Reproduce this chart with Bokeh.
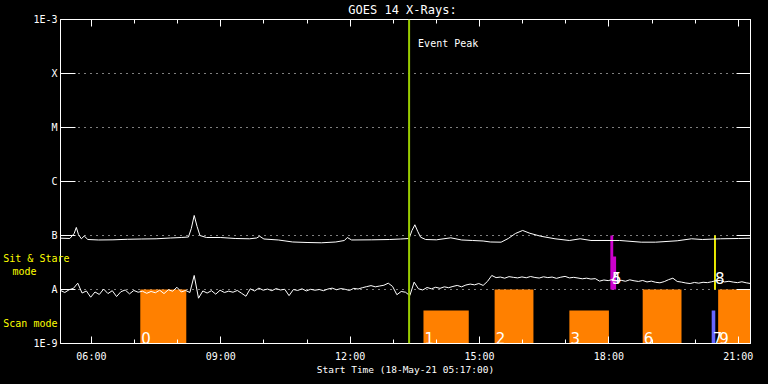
import pandas as pd
from bokeh.plotting import figure
from bokeh.models import (ColumnDataSource, FixedTicker, LogAxis, DatetimeAxis,
                          DatetimeTickFormatter, Span, Label, BoxAnnotation, Range1d,
                          GlobalInlineStyleSheet, CustomJSTickFormatter)
from bokeh.core.properties import value
from bokeh.embed import file_html
from bokeh.resources import INLINE

# ---------------- data ----------------
DAY = "2021-05-18"
X_START, X_END = "05:17", "21:17"

y_tick_values = [1e-9, 1e-8, 1e-7, 1e-6, 1e-5, 1e-4, 1e-3]
y_tick_labels = ["1E-9", "A", "B", "C", "M", "X", "1E-3"]

x_major_ticks = ["06:00", "09:00", "12:00", "15:00", "18:00", "21:00"]
x_minor_ticks = ["06:00", "07:00", "08:00", "09:00", "10:00", "11:00", "12:00", "13:00",
                 "14:00", "15:00", "16:00", "17:00", "18:00", "19:00", "20:00", "21:00"]

# GOES short channel (0.5-4 A), 6-minute samples from 05:17, units of 1e-9 W/m^2
short_start = "05:17"
short_step = "6min"
short_flux_e9 = [
    9.6, 8.8, 9.9, 10.5, 13.1, 8.6, 9.4, 7.2, 9.0, 8.1,
    10.2, 8.4, 9.5, 7.4, 9.1, 9.8, 8.3, 9.6, 8.9, 9.3,
    8.5, 9.2, 8.7, 9.7, 8.4, 9.9, 9.3, 11.0, 9.0, 9.6,
    8.8, 18.2, 6.9, 9.4, 8.6, 9.5, 8.2, 9.7, 8.8, 9.3,
    8.9, 9.6, 8.5, 7.5, 10.3, 9.4, 10.6, 9.7, 10.2, 9.5,
    10.4, 9.8, 10.1, 7.7, 10.0, 9.6, 10.3, 9.4, 10.1, 9.7,
    10.0, 9.5, 10.2, 10.6, 9.9, 10.4, 10.1, 9.6, 10.5, 10.2,
    10.8, 11.3, 11.8, 11.2, 11.6, 12.0, 13.1, 11.4, 8.0, 9.2,
    8.9, 7.7, 13.7, 10.3, 9.8, 10.9, 10.3, 11.0, 10.5, 11.2,
    10.8, 11.4, 11.9, 11.2, 12.1, 12.6, 12.2, 12.9, 11.9, 14.1,
    18.2, 16.6, 17.0, 16.2, 17.3, 16.8, 16.4, 17.1, 16.5, 17.4,
    16.7, 16.3, 17.2, 16.6, 17.0, 16.1, 16.9, 17.5, 16.4, 16.8,
    16.3, 15.8, 16.2, 15.6, 15.9, 14.3, 15.0, 14.6, 15.3, 14.4,
    14.8, 14.2, 15.1, 14.5, 14.1, 14.7, 13.8, 14.3, 13.6, 13.3,
    14.0, 15.2, 16.2, 14.1, 13.7, 13.2, 12.9, 13.5, 13.1, 13.6,
    13.4, 13.9, 14.6, 14.7, 13.8, 14.2, 13.7, 13.4, 13.9, 13.3,
    12.9,
]

# GOES long channel (1-8 A), units of 1e-9 W/m^2
long_times = ["05:17", "05:30", "05:36", "05:39", "05:42", "05:46", "05:50", "05:55",
              "06:10", "06:30", "06:50", "07:10", "07:30", "07:50", "08:05", "08:15",
              "08:19", "08:23", "08:27", "08:31", "08:40", "09:00", "09:20", "09:40",
              "09:50", "09:54", "10:00", "10:20", "10:40", "11:00", "11:20", "11:40",
              "11:52", "11:56", "12:02", "12:30", "12:55", "13:10", "13:22", "13:26",
              "13:30", "13:34", "13:38", "13:45", "14:00", "14:20", "14:35", "14:50",
              "15:05", "15:15", "15:30", "15:40", "15:50", "16:00", "16:10", "16:25",
              "16:45", "17:05", "17:20", "17:35", "18:15", "18:45", "19:05", "19:35",
              "19:55", "20:10", "20:35", "21:00", "21:17"]
long_flux_e9 = [89.1, 88.0, 109, 141, 104, 86.9, 97.9, 84.3,
                82.6, 83.2, 85.1, 86.1, 86.9, 89.9, 91.8, 93.8,
                135, 235, 147, 100, 91.8, 91.8, 88.0, 86.9,
                89.9, 97.0, 86.1, 82.6, 75.8, 74.2, 73.3, 75.8,
                80.8, 91.8, 82.6, 83.2, 84.3, 86.1, 88.0, 124,
                158, 119, 93.0, 84.3, 83.2, 90.6, 82.6, 80.8,
                79.1, 75.8, 75.2, 88.0, 109, 124, 110, 97.0,
                86.9, 80.8, 86.9, 80.8, 80.8, 75.2, 75.2, 79.8,
                86.9, 84.3, 86.9, 88.0, 89.1]

event_peak = "13:22"

# observations: label, mode, start, end, top level, colour
obs_label = ["0", "1", "2", "3", "4", "5", "6", "7", "8", "9"]
obs_mode = ["scan", "scan", "scan", "scan", "sit", "sit", "scan", "scan", "sit", "scan"]
obs_start = ["07:08", "13:42", "15:21", "17:05", "18:02", "18:03", "18:47", "20:23", "20:26:20", "20:32"]
obs_end = ["08:12", "14:45", "16:15", "18:00", "18:06", "18:10", "19:41", "20:28", "20:28:50", "21:36"]
obs_top = [1e-8, 4.1e-9, 1e-8, 4.1e-9, 1e-7, 4.1e-8, 1e-8, 4.1e-9, 1e-7, 1e-8]
obs_color = ["#ff8000", "#ff8000", "#ff8000", "#ff8000", "#cc00cc", "#cc00cc",
             "#ff8000", "#6666ff", "#ffff00", "#ff8000"]
mode_floor = {"scan": 1e-9, "sit": 1e-8}

# ---------------- helpers / styles ----------------
FONT = "DejaVu Sans Mono"
EPOCH = pd.Timestamp("1970-01-01")


def ts(hm):
    return pd.Timestamp(f"{DAY} {hm}")


def ms(hm):
    return (ts(hm) - EPOCH).total_seconds() * 1000.0


label_y_by_mode = {"scan": 1.24e-9, "sit": 1.6e-8}

p = figure(width=768, height=384, x_axis_type="datetime", y_axis_type="log",
           x_range=Range1d(ts(X_START), ts(X_END)), y_range=Range1d(1e-9, 1e-3),
           output_backend="svg", toolbar_location=None,
           background_fill_color="black", border_fill_color="black",
           outline_line_color="white",
           min_border_left=60, min_border_right=18, min_border_top=19,
           min_border_bottom=41)
p.stylesheets = [GlobalInlineStyleSheet(css="html,body{margin:0;padding:0;background:#000;overflow:hidden;}")]

xticker = FixedTicker(ticks=[ms(t) for t in x_major_ticks],
                      minor_ticks=[ms(t) for t in x_minor_ticks])
yticker = FixedTicker(ticks=y_tick_values, minor_ticks=[])
fmt = DatetimeTickFormatter(hours="%H:%M", hourmin="%H:%M", minutes="%H:%M",
                            minsec="%H:%M", days="%H:%M", seconds="%H:%M")
blank = CustomJSTickFormatter(code="return ''")


def style_x(ax, labels):
    ax.ticker = xticker
    ax.formatter = fmt if labels else blank
    ax.axis_line_color = "white"
    ax.major_tick_line_color = "white"
    ax.minor_tick_line_color = "white"
    ax.major_tick_in = 7
    ax.major_tick_out = 0
    ax.minor_tick_in = 4
    ax.minor_tick_out = 0
    ax.major_label_text_color = "white"
    ax.major_label_text_font = FONT
    ax.major_label_text_font_size = "10px"
    ax.major_label_standoff = 7 if labels else 0


def style_y(ax, labels, tick_len):
    ax.ticker = yticker
    ax.axis_line_color = "white"
    ax.major_tick_line_color = "white"
    ax.minor_tick_line_color = None
    ax.major_tick_in = tick_len
    ax.major_tick_out = 0
    ax.minor_tick_in = 0
    ax.minor_tick_out = 0
    ax.major_label_text_color = "white"
    ax.major_label_text_font = FONT
    ax.major_label_text_font_size = "10px"
    ax.major_label_standoff = 3 if labels else 0
    if labels:
        ax.major_label_overrides = {v: l for v, l in zip(y_tick_values, y_tick_labels)}
    else:
        ax.formatter = blank


xb = p.xaxis[0]
style_x(xb, True)
xb.axis_label = "Start Time (18-May-21 05:17:00)"
xb.axis_label_text_color = "white"
xb.axis_label_text_font = FONT
xb.axis_label_text_font_size = "9.5px"
xb.axis_label_text_font_style = "normal"
xb.axis_label_standoff = -1

xt = DatetimeAxis()
style_x(xt, False)
p.add_layout(xt, "above")

yl = p.yaxis[0]
style_y(yl, True, 15)
yr = LogAxis()
style_y(yr, False, 14)
p.add_layout(yr, "right")

# yellow mode texts in the left margin: extra label-only axes (text, level, standoff)
mode_texts = [("mode", 2.15e-8, -6), ("Scan mode", 2.35e-9, -48), ("Sit & Stare", 3.75e-8, -69)]
for txt, lvl, standoff in mode_texts:
    ax = LogAxis(ticker=FixedTicker(ticks=[lvl], minor_ticks=[]),
                 major_label_overrides={lvl: txt})
    ax.axis_line_color = None
    ax.major_tick_line_color = None
    ax.minor_tick_line_color = None
    ax.major_tick_in = 0
    ax.major_tick_out = 0
    ax.minor_tick_in = 0
    ax.minor_tick_out = 0
    ax.major_label_standoff = standoff
    ax.major_label_text_color = "#ffff00"
    ax.major_label_text_font = FONT
    ax.major_label_text_font_size = "10px"
    p.add_layout(ax, "left")

p.xgrid.visible = False
p.ygrid.ticker = yticker
p.ygrid.grid_line_color = "white"
p.ygrid.grid_line_dash = "1 5"
p.ygrid.grid_line_width = 1

# observation bars
for lab, mode, s, e, top, col in zip(obs_label, obs_mode, obs_start, obs_end, obs_top, obs_color):
    p.add_layout(BoxAnnotation(left=ts(s), right=ts(e), bottom=mode_floor[mode], top=top,
                               fill_color=col, fill_alpha=1.0, line_color=None,
                               level="underlay"))

# GOES curves
short_times = pd.date_range(ts(short_start), periods=len(short_flux_e9), freq=short_step)
short_src = ColumnDataSource(dict(t=short_times, f=[v * 1e-9 for v in short_flux_e9]))
long_src = ColumnDataSource(dict(t=[ts(t) for t in long_times], f=[v * 1e-9 for v in long_flux_e9]))
p.line("t", "f", source=long_src, line_color="white", line_width=1)
p.line("t", "f", source=short_src, line_color="white", line_width=1)

# observation numbers
lab_src = ColumnDataSource(dict(t=[ts(s) for s in obs_start],
                                y=[label_y_by_mode[m] for m in obs_mode],
                                txt=obs_label))
p.text("t", "y", text="txt", source=lab_src, text_color="white",
       text_font=value("DejaVu Sans"), text_font_size="15px", text_baseline="alphabetic",
       x_offset=1)

# event peak
p.add_layout(Span(location=ts(event_peak), dimension="height", line_color="#99cc00",
                  line_width=2))
p.add_layout(Label(x=ts(event_peak), y=300, y_units="screen", x_offset=9,
                   text="Event Peak", text_color="white", text_font=FONT,
                   text_font_size="10px", text_baseline="middle"))

# title (side-panel label, so it is not clipped to the frame)
p.add_layout(Label(x=342, y=10, x_units="screen", y_units="screen",
                   text="GOES 14 X-Rays:", text_color="white", text_font=FONT,
                   text_font_size="12px", text_align="center", text_baseline="middle"),
             "above")

open("out.html", "w").write(file_html(p, INLINE))
